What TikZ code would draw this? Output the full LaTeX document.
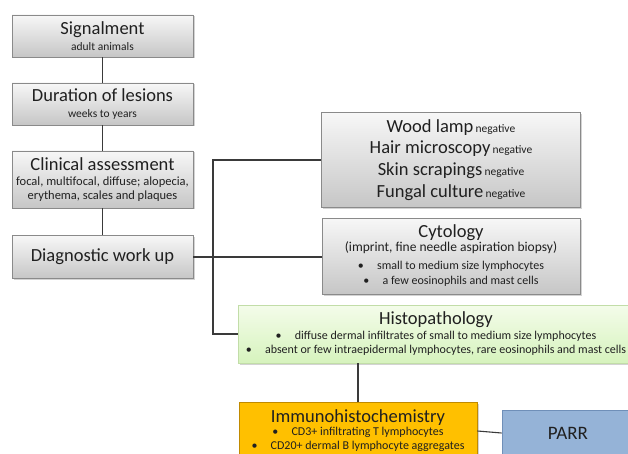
\documentclass[tikz,border=0pt]{standalone}
\usepackage{fontspec}
\setmainfont{Carlito}
\usetikzlibrary{shadows}
\definecolor{lineg}{HTML}{3A3A3A}
\definecolor{gtop}{HTML}{F7F7F7}
\definecolor{gbot}{HTML}{C6C6C6}
\definecolor{gborder}{HTML}{8A8A8A}
\definecolor{htop}{HTML}{F4FCEA}
\definecolor{hbot}{HTML}{D6F3BD}
\definecolor{hborder}{HTML}{C2DDA8}
\definecolor{ofill}{HTML}{FFC000}
\definecolor{oborder}{HTML}{C08A00}
\definecolor{bfill}{HTML}{95B3D7}
\definecolor{bborder}{HTML}{6F8FB8}
\definecolor{txt}{HTML}{202020}
\newcommand{\fs}[1]{\fontsize{#1}{#1}\selectfont}
\newcommand{\bl}{\textbullet\hspace{1.1em}}
\tikzset{
  boxbase/.style={rectangle, align=center, inner sep=0pt, text=txt, line width=0.8pt,
    drop shadow={shadow xshift=1.5pt, shadow yshift=-1.5pt, opacity=0.35}},
  graybox/.style={boxbase, draw=gborder, top color=gtop, bottom color=gbot},
  greenbox/.style={boxbase, draw=hborder, top color=htop, bottom color=hbot},
  orangebox/.style={boxbase, draw=oborder, fill=ofill},
  bluebox/.style={boxbase, draw=bborder, fill=bfill},
  conn/.style={draw=lineg, line width=1.1pt}
}
\begin{document}
\begin{tikzpicture}[x=1pt, y=-1pt]
\useasboundingbox (0,0) rectangle (628,454);
\clip (0,0) rectangle (628,454);
\node[graybox, minimum width=181pt, minimum height=42pt] (sig) at (102.5,36)
  {{\fs{18.5}Signalment}\\[4pt]{\fs{11.5}adult animals}};
\node[graybox, minimum width=181pt, minimum height=42pt] (dur) at (102.5,104)
  {{\fs{18.5}Duration of lesions}\\[4pt]{\fs{11.5}weeks to years}};
\node[graybox, minimum width=181pt, minimum height=57pt] (cli) at (102.5,179.5)
  {{\fs{18.5}Clinical assessment}\\[3pt]{\fs{12.5}focal, multifocal, diffuse; alopecia,}\\[2pt]{\fs{12.5}erythema, scales and plaques}};
\node[graybox, minimum width=181pt, minimum height=43pt] (diag) at (102.5,257)
  {\fs{18.5}Diagnostic work up};
\node[graybox, minimum width=259pt, minimum height=95pt] (tests) at (451,160)
  {{\fs{18.5}Wood lamp} {\fs{11.5}negative}\\[5pt]
   {\fs{18.5}Hair microscopy} {\fs{11.5}negative}\\[5pt]
   {\fs{18.5}Skin scrapings} {\fs{11.5}negative}\\[5pt]
   {\fs{18.5}Fungal culture} {\fs{11.5}negative}};
\node[graybox, minimum width=258pt, minimum height=76pt] (cyto) at (451,256)
  {{\fs{18.5}Cytology}\\[0pt]
   {\fs{13.5}(imprint, fine needle aspiration biopsy)}\\[6pt]
   {\fs{12}\bl small to medium size lymphocytes}\\[3pt]
   {\fs{12}\bl a few eosinophils and mast cells}};
\node[greenbox, minimum width=396pt, minimum height=58pt] (histo) at (436,334)
  {{\fs{18.5}Histopathology}\\[3pt]
   {\fs{12}\bl diffuse dermal infiltrates of small to medium size lymphocytes}\\[2pt]
   {\fs{12}\bl absent or few intraepidermal lymphocytes, rare eosinophils and mast cells}};
\node[orangebox, minimum width=238pt, minimum height=58pt] (ihc) at (358,431)
  {{\fs{18.5}Immunohistochemistry}\\[1pt]
   {\fs{12}\bl CD3+ infiltrating T lymphocytes}\\[2pt]
   {\fs{12}\bl CD20+ dermal B lymphocyte aggregates}};
\node[bluebox, minimum width=132pt, minimum height=46pt] (parr) at (568,433)
  {\fs{19}PARR};
\coordinate (jb) at (213,334);
\draw[conn] (sig.south) -- (dur.north);
\draw[conn] (dur.south) -- (cli.north);
\draw[conn] (cli.south) -- (diag.north);
\draw[conn] (diag.east) -- (diag.east -| cyto.west);
\draw[conn] (tests.west) -| (jb) -- (histo.west);
\draw[conn] (histo.south -| ihc.north) -- (ihc.north);
\draw[conn] (ihc.east) -- (parr.west);
\end{tikzpicture}
\end{document}
